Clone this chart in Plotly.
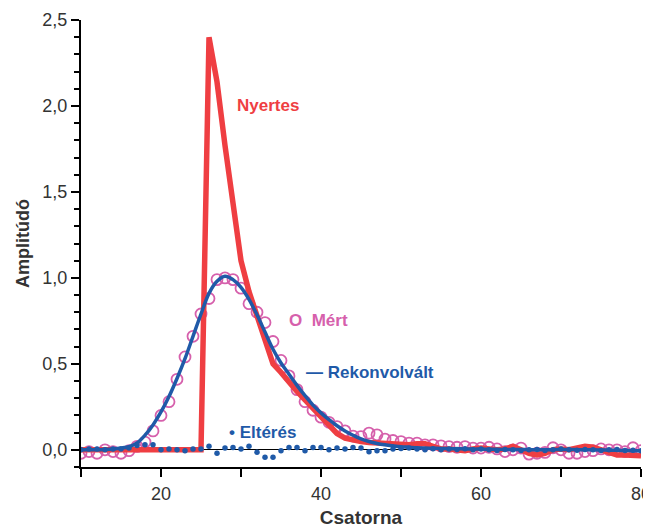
import plotly.graph_objects as go

channels = list(range(10, 81))

nyertes = [0, 0, 0, 0, 0, 0, 0, 0, 0, 0, 0, 0, 0, 0, 0, 0,            # 10-25
           2.40, 2.14, 1.77, 1.44, 1.10, 0.92, 0.78, 0.63, 0.50, 0.45,  # 26-35
           0.39, 0.34, 0.29, 0.24, 0.19, 0.14, 0.095, 0.068, 0.055, 0.048,  # 36-45
           0.043, 0.040, 0.038, 0.035, 0.030, 0.030, 0.035, 0.035, 0.020, 0.005,  # 46-55
           0.005, 0.0, -0.005, 0.005, 0.01, 0.005, 0.0, 0.005, 0.02, 0.0,  # 56-65
           -0.02, -0.03, -0.02, 0.0, 0.005, 0.0, 0.01, 0.02, 0.015, 0.0,  # 66-75
           -0.015, -0.03, -0.03, -0.03, -0.035]  # 76-80

mert = [-0.02, -0.01, -0.02, 0.0, -0.01, -0.02, -0.005, 0.02, 0.045, 0.11,  # 10-19
        0.20, 0.28, 0.41, 0.54, 0.66, 0.79, 0.88, 0.99, 1.00, 0.99,  # 20-29
        0.94, 0.85, 0.80, 0.74, 0.63, 0.52, 0.43, 0.35, 0.28, 0.23,  # 30-39
        0.19, 0.16, 0.135, 0.11, 0.08, 0.077, 0.097, 0.087, 0.062, 0.054,  # 40-49
        0.048, 0.039, 0.039, 0.029, 0.029, 0.023, 0.019, 0.015, 0.019, 0.010,  # 50-59
        0.010, 0.015, 0.005, -0.01, 0.0, 0.01, -0.025, -0.02, -0.015, 0.012,  # 60-69
        0.0, -0.02, -0.02, -0.01, -0.005, 0.005, 0.0, 0.0, -0.01, 0.012,  # 70-79
        -0.005]  # 80

rekonvolvalt = [0.0, 0.0, 0.0, 0.002, 0.005, 0.01, 0.018, 0.04, 0.085, 0.145,  # 10-19
                0.22, 0.31, 0.415, 0.53, 0.66, 0.79, 0.91, 0.98, 1.01, 0.99,  # 20-29
                0.945, 0.875, 0.785, 0.685, 0.585, 0.505, 0.44, 0.375, 0.315, 0.26,  # 30-39
                0.215, 0.175, 0.14, 0.11, 0.085, 0.063, 0.048, 0.037, 0.029, 0.023,  # 40-49
                0.018, 0.015, 0.012, 0.01, 0.009, 0.008, 0.007, 0.006, 0.005, 0.004,  # 50-59
                0.004, 0.003, 0.003, 0.002, 0.002, 0.002, 0.001, 0.0, 0.0, 0.001,  # 60-69
                0.002, 0.002, 0.001, 0.0, 0.0, -0.001, -0.002, -0.003, -0.004, -0.005,  # 70-79
                -0.005]  # 80

elteres = [0.0, 0.005, 0.005, 0.0, 0.005, 0.005, 0.01, 0.025, 0.03, 0.03,  # 10-19
           0.0, 0.005, 0.0, -0.005, 0.005, 0.005, 0.02, -0.02, 0.01, 0.014,  # 20-29
           0.004, 0.02, -0.014, -0.043, -0.043, -0.006, 0.014, 0.014, -0.006, 0.014,  # 30-39
           0.014, 0.0, 0.01, 0.004, 0.014, 0.01, -0.012, -0.006, -0.006, 0.004,  # 40-49
           0.008, 0.01, 0.004, 0.0, 0.006, 0.0, 0.004, 0.002, 0.006, 0.0,  # 50-59
           0.004, 0.0, -0.004, 0.002, 0.0, -0.004, 0.0, 0.002, -0.004, 0.0,  # 60-69
           0.004, 0.0, -0.002, 0.002, 0.0, -0.004, 0.0, 0.002, -0.004, -0.002,  # 70-79
           -0.006]  # 80

RED = "#ef3e42"
BLUE = "#1f5aa8"
PINK = "#d660ac"
FONT = "Liberation Sans, Arial, sans-serif"

fig = go.Figure()
fig.add_trace(go.Scatter(x=channels, y=mert, mode="markers",
                         marker=dict(symbol="circle-open", size=11, color=PINK,
                                     line=dict(width=1.8, color=PINK)),
                         name="Mért"))
fig.add_trace(go.Scatter(x=channels, y=nyertes, mode="lines",
                         line=dict(color=RED, width=5.5), name="Nyertes"))
fig.add_trace(go.Scatter(x=channels, y=rekonvolvalt, mode="lines",
                         line=dict(color=BLUE, width=3.5, shape="spline"),
                         name="Rekonvolvált"))
fig.add_trace(go.Scatter(x=channels, y=elteres, mode="markers",
                         marker=dict(symbol="circle", size=5.5, color=BLUE),
                         name="Eltérés"))

ann_font = dict(family=FONT, size=17)
fig.add_annotation(x=29.2, y=2.0, text="<b>Nyertes</b>", showarrow=False,
                   xanchor="left", yanchor="middle", font=dict(ann_font, color=RED))
fig.add_annotation(x=35.8, y=0.755, text="<b>O\u00a0 Mért</b>", showarrow=False,
                   xanchor="left", yanchor="middle", font=dict(ann_font, color=PINK))
fig.add_annotation(x=37.9, y=0.45, text="<b>— Rekonvolvált</b>", showarrow=False,
                   xanchor="left", yanchor="middle", font=dict(ann_font, color=BLUE))
fig.add_annotation(x=28.2, y=0.1, text="<b>• Eltérés</b>", showarrow=False,
                   xanchor="left", yanchor="middle", font=dict(ann_font, color=BLUE))

# page body has an 8px margin, so the figure is offset by 8px inside the window
fig.update_layout(
    width=651, height=521,
    margin=dict(l=73, r=18, t=12, b=62, autoexpand=False),
    paper_bgcolor="white", plot_bgcolor="white",
    showlegend=False,
    separators=", ",
    font=dict(family=FONT, size=18, color="#333333"),
)
fig.update_xaxes(
    range=[10, 80], showgrid=False, zeroline=False, automargin=False,
    showline=True, linecolor="black", linewidth=2,
    ticks="outside", ticklen=8, tickwidth=1.5, tickcolor="black",
    tick0=0, dtick=20, ticklabelstandoff=1, ticklabeloverflow="allow",
    minor=dict(dtick=10, tick0=0, ticks="outside", ticklen=8, tickwidth=1.5, tickcolor="black"),
    tickfont=dict(size=18, color="#333333"),
    title=dict(text="<b>Csatorna</b>", font=dict(size=19, color="#333333"), standoff=8),
)
fig.update_yaxes(
    range=[-0.1, 2.5], showgrid=False, automargin=False,
    zeroline=True, zerolinecolor="black", zerolinewidth=1,
    showline=True, linecolor="black", linewidth=2,
    ticks="outside", ticklen=8, tickwidth=1.5, tickcolor="black",
    tick0=0, dtick=0.5, tickformat=".1f", ticklabeloverflow="allow",
    minor=dict(dtick=0.1, tick0=0, ticks="outside", ticklen=5, tickwidth=1.5, tickcolor="black"),
    tickfont=dict(size=18, color="#333333"),
    title=dict(text="<b>Amplitúdó</b>", font=dict(size=18, color="#333333"), standoff=8),
)

fig.write_html("out.html")
